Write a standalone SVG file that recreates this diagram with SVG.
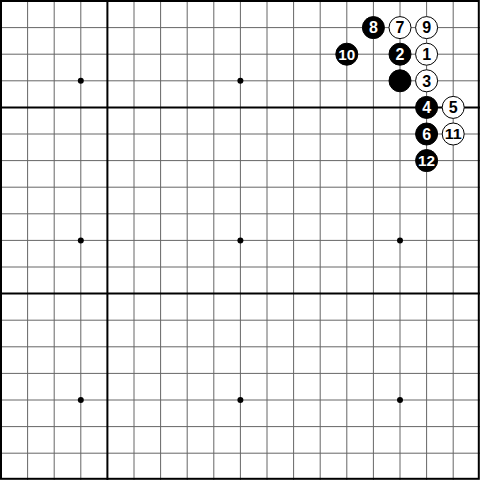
<svg xmlns="http://www.w3.org/2000/svg" width="480" height="480" viewBox="0 0 480 480">
<style>
.g{stroke:#666;stroke-width:1;fill:none}
.t{stroke:#000;stroke-width:2;fill:none}
.b{fill:#000;stroke:#000;stroke-width:1}
.w{fill:#fff;stroke:#000;stroke-width:1}
.lb,.lw{font-family:"Liberation Sans",Arial,sans-serif;font-weight:bold;font-size:16px;text-anchor:middle}
.lb{fill:#fff}
.lw{fill:#000}
.n{font-size:15px}
</style>
<rect width="480" height="480" fill="#fff"/>
<g id="grid">
<path class="g" d="M27.6,0V480M54.2,0V480M80.8,0V480M134,0V480M160.6,0V480M187.2,0V480M213.8,0V480M240.4,0V480M267,0V480M293.6,0V480M320.2,0V480M346.8,0V480M373.4,0V480M400,0V480M426.6,0V480M453.2,0V480"/>
<path class="g" d="M0,27.6H480M0,54.2H480M0,80.8H480M0,134H480M0,160.6H480M0,187.2H480M0,213.8H480M0,240.4H480M0,267H480M0,320.2H480M0,346.8H480M0,373.4H480M0,400H480M0,426.6H480M0,453.2H480"/>
<path class="t" d="M107.4,0V480M0,107.4H480M0,293.6H480"/>
<rect class="t" x="1" y="1" width="477.8" height="477.8"/>
</g>
<g id="hoshi" fill="#000">
<circle cx="80.8" cy="80.8" r="3"/><circle cx="240.4" cy="80.8" r="3"/>
<circle cx="80.8" cy="240.4" r="3"/><circle cx="240.4" cy="240.4" r="3"/><circle cx="400" cy="240.4" r="3"/>
<circle cx="80.8" cy="400" r="3"/><circle cx="240.4" cy="400" r="3"/><circle cx="400" cy="400" r="3"/>
</g>
<g id="s8"><circle class="b" cx="373.4" cy="27.6" r="11"/><text class="lb" x="373.4" y="33.4">8</text></g>
<g id="s7"><circle class="w" cx="400" cy="27.6" r="11"/><text class="lw" x="400" y="33.4">7</text></g>
<g id="s9"><circle class="w" cx="426.6" cy="27.6" r="11"/><text class="lw" x="426.6" y="33.4">9</text></g>
<g id="s10"><circle class="b" cx="346.8" cy="54.2" r="11"/><text class="lb n" x="346.8" y="59.6" textLength="17" lengthAdjust="spacingAndGlyphs">10</text></g>
<g id="s2"><circle class="b" cx="400" cy="54.2" r="11"/><text class="lb" x="400" y="60">2</text></g>
<g id="s1"><circle class="w" cx="426.6" cy="54.2" r="11"/><text class="lw" x="426.6" y="60">1</text></g>
<g id="sB"><circle class="b" cx="400" cy="80.8" r="11"/></g>
<g id="s3"><circle class="w" cx="426.6" cy="80.8" r="11"/><text class="lw" x="426.6" y="86.6">3</text></g>
<g id="s4"><circle class="b" cx="426.6" cy="107.4" r="11"/><text class="lb" x="426.6" y="113.2">4</text></g>
<g id="s5"><circle class="w" cx="453.2" cy="107.4" r="11"/><text class="lw" x="453.2" y="113.2">5</text></g>
<g id="s6"><circle class="b" cx="426.6" cy="134" r="11"/><text class="lb" x="426.6" y="139.8">6</text></g>
<g id="s11"><circle class="w" cx="453.2" cy="134" r="11"/><text class="lw n" x="453.2" y="139.4" textLength="17" lengthAdjust="spacingAndGlyphs">11</text></g>
<g id="s12"><circle class="b" cx="426.6" cy="160.6" r="11"/><text class="lb n" x="426.6" y="166" textLength="17" lengthAdjust="spacingAndGlyphs">12</text></g>
</svg>
